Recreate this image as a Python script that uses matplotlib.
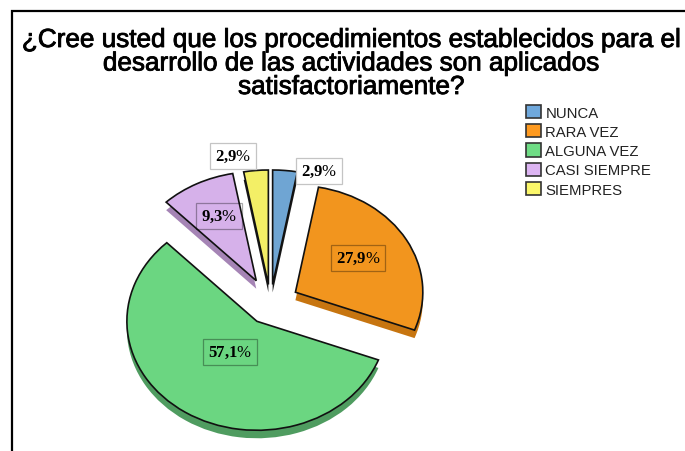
import matplotlib
matplotlib.use('Agg')
import matplotlib.pyplot as plt
import matplotlib.patheffects as pe
from matplotlib.patches import Patch, Rectangle

plt.rcParams['font.family'] = ['Liberation Sans', 'DejaVu Sans']
plt.rcParams['mathtext.fontset'] = 'custom'
plt.rcParams['mathtext.bf'] = 'Liberation Serif:bold'

W, H = 685, 452

# Data
categories = ['NUNCA', 'RARA VEZ', 'ALGUNA VEZ', 'CASI SIEMPRE', 'SIEMPRES']
values = [2.9, 27.9, 57.1, 9.3, 2.9]
title_lines = ['¿Cree usted que los procedimientos establecidos para el',
               'desarrollo de las actividades son aplicados',
               'satisfactoriamente?']

# Styles
colors = ['#6fa5d3', '#f2951e', '#6bd681', '#d6b1ea', '#f3ef66']
side_colors = ['#1a1a1a', '#c77510', '#4f9c60', '#a584b5', '#1a1a1a']
legend_colors = ['#6fa8dc', '#ff9a1f', '#6fdc85', '#dcb4f2', '#fbf76a']
explode = [0.18, 0.22, 0.19, 0.24, 0.18]
radius_scale = [1.05, 0.98, 1.0, 1.0, 1.05]
label_pos = [(319, 172), (358, 259), (230, 353), (219, 217), (233, 157)]
outside = [True, False, False, False, True]

# Pie centre and ellipse radii in pixels
cx, cy, rx, ry = 270.5, 305, 130, 109
depth = 8 / ry

fig = plt.figure(figsize=(W / 100, H / 100), dpi=100, facecolor='white')
fig.add_artist(Rectangle((12 / W, -0.1), 1, 1.1 - 12 / H, transform=fig.transFigure,
                         facecolor='white', edgecolor='black', linewidth=1.6, zorder=-1))

# One data unit is rx pixels wide and ry pixels high
span = 1.6
ax = fig.add_axes([(cx - span * rx) / W, 1 - (cy + span * ry) / H,
                   2 * span * rx / W, 2 * span * ry / H])

# Side of the slices, then the top
side, _ = ax.pie(values, colors=side_colors, explode=explode, startangle=90,
                 counterclock=False, center=(0, -depth), radius=1,
                 wedgeprops={'linewidth': 0})
top, _ = ax.pie(values, colors=colors, explode=explode, startangle=90,
                counterclock=False, center=(0, 0), radius=1,
                wedgeprops={'edgecolor': '#111111', 'linewidth': 1.2})
for group in (side, top):
    for wedge, k in zip(group, radius_scale):
        wedge.set_radius(wedge.r * k)
ax.set_aspect('auto')
ax.set_xlim(-span, span)
ax.set_ylim(-span, span)
ax.axis('off')

# Value labels
for v, (px, py), out in zip(values, label_pos, outside):
    whole, dec = f'{v:.1f}'.split('.')
    box = dict(boxstyle='square,pad=0.3', linewidth=0.9,
               facecolor='white' if out else 'none',
               edgecolor='#c4c4c4' if out else '#00000055')
    fig.text(px / W, 1 - py / H, f'$\\mathbf{{{whole}{{,}}{dec}}}$%', ha='center', va='center',
             fontsize=12, family='Liberation Serif', color='black', bbox=box)

# Title, regular face thickened a little
for line, y in zip(title_lines, [48, 71.5, 95]):
    fig.text(351.5 / W, 1 - y / H, line, ha='center', va='baseline', fontsize=18.8,
             color='black', path_effects=[pe.withStroke(linewidth=0.6, foreground='black')])

# Legend
handles = [Patch(facecolor=c, edgecolor='#333333', linewidth=1.2) for c in legend_colors]
fig.legend(handles, categories, loc='upper left', bbox_to_anchor=(526 / W, 1 - 106 / H),
           frameon=False, fontsize=10.7, labelspacing=0.3, handlelength=1.0,
           handleheight=1.0, handletextpad=0.3, borderpad=0, borderaxespad=0,
           labelcolor='#222222')

fig.savefig('out.png', dpi=100)
